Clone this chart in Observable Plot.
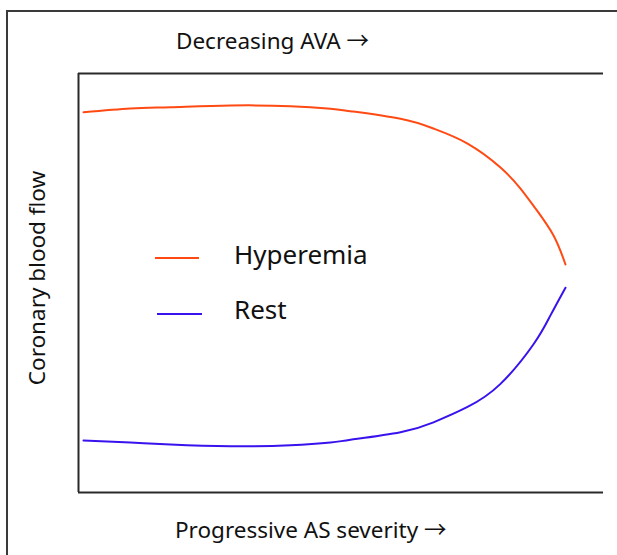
<!DOCTYPE html>
<html>
<head>
<meta charset="utf-8">
<script src="https://cdn.jsdelivr.net/npm/d3@7"></script>
<script src="https://cdn.jsdelivr.net/npm/@observablehq/plot@0.6"></script>
<style>
  html, body { margin: 0; padding: 0; background: #fff; overflow: hidden; }
  #chart { width: 617px; height: 555px; overflow: hidden; background: #fff; }
</style>
</head>
<body>
<div id="chart"></div>
<script>
const FONT = "'Noto Sans', sans-serif";
const ARROW_FONT = "'Noto Sans CJK KR', 'Noto Sans', sans-serif";
const TITLE = "Decreasing AVA";
const XLABEL = "Progressive AS severity";
const ARROW = "\u2192";
const YLABEL = "Coronary blood flow";
const seriesNames = ["Hyperemia", "Rest"];
const seriesColors = ["#ff4a14", "#3a12ee"];

// Severity (0–100) and flow (0–100)
const severity = [0.95, 9.9, 17.52, 28.95, 40.38, 48.0, 51.81, 61.33, 67.62, 74.1, 80.38, 84.19, 87.05, 90.48, 92.76];
const hyperemia = [90.76, 91.65, 91.96, 92.36, 92.2, 91.58, 91.0, 89.19, 86.87, 83.29, 77.57, 72.55, 67.78, 61.34, 54.42];

const severityRest = [0.95, 9.9, 17.52, 28.95, 40.38, 48.0, 51.81, 61.33, 67.62, 74.1, 80.38, 86.67, 89.9, 92.76];
const rest = [12.41, 11.93, 11.46, 11.05, 11.29, 11.93, 12.58, 14.39, 16.75, 20.41, 25.92, 35.37, 42.27, 48.88];

const data = [
  ...severity.map((x, i) => ({x, y: hyperemia[i], s: "Hyperemia"})),
  ...severityRest.map((x, i) => ({x, y: rest[i], s: "Rest"}))
];

const plot = Plot.plot({
  width: 617,
  height: 555,
  marginTop: 73,
  marginLeft: 78,
  marginRight: 14,
  marginBottom: 63,
  style: {fontFamily: FONT, background: "#fff", color: "#111"},
  x: {domain: [0, 100], axis: null},
  y: {domain: [0, 100], axis: null},
  color: {domain: seriesNames, range: seriesColors},
  marks: [
    Plot.ruleY([0, 100], {stroke: "#2a2a2a", strokeWidth: 2}),
    Plot.ruleX([0], {stroke: "#2a2a2a", strokeWidth: 2}),
    Plot.line(data, {x: "x", y: "y", z: "s", stroke: "s", strokeWidth: 2, curve: "natural"}),
    Plot.text([YLABEL], {frameAnchor: "left", dx: -41, dy: -5, rotate: -90, textAnchor: "middle", lineAnchor: "middle", fontSize: 22.5, fill: "#111"})
  ]
});

const svg = d3.select(plot);

// Outer frame (left and top edges visible)
svg.append("line").attr("x1", 7).attr("x2", 7).attr("y1", 10).attr("y2", 560)
  .attr("stroke", "#3a3a3a").attr("stroke-width", 2);
svg.append("line").attr("x1", 6).attr("x2", 630).attr("y1", 11).attr("y2", 11)
  .attr("stroke", "#3a3a3a").attr("stroke-width", 2);

// Axis direction labels with arrows
function arrowLabel(label, x, y) {
  const t = svg.append("text").attr("x", x).attr("y", y)
    .attr("text-anchor", "start").attr("font-family", FONT)
    .attr("font-size", 22.5).attr("fill", "#111");
  t.append("tspan").text(label + " ");
  t.append("tspan").attr("font-family", ARROW_FONT).text(ARROW);
}
arrowLabel(TITLE, 176, 49);
arrowLabel(XLABEL, 175, 538);

// Legend
const leg = svg.append("g").attr("font-family", FONT);
const legY = [258, 314];
seriesNames.forEach((name, i) => {
  leg.append("line").attr("x1", 155 + i * 2).attr("x2", 199 + i * 3)
    .attr("y1", legY[i]).attr("y2", legY[i])
    .attr("stroke", seriesColors[i]).attr("stroke-width", 2);
  leg.append("text").attr("x", 234).attr("y", [264, 319][i])
    .attr("text-anchor", "start")
    .attr("font-size", 26).attr("fill", "#111").text(name);
});

document.getElementById("chart").appendChild(plot);
</script>
</body>
</html>
